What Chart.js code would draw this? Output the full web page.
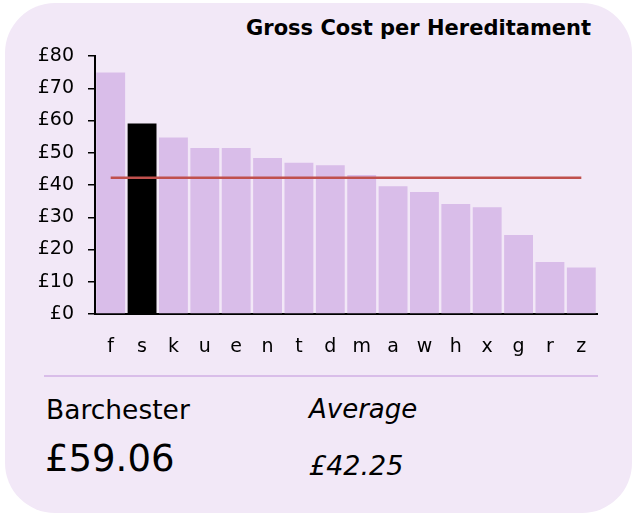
<!DOCTYPE html>
<html>
<head>
<meta charset="utf-8">
<script src="https://cdn.jsdelivr.net/npm/chart.js@4/dist/chart.umd.min.js"></script>
<style>
  html, body { margin: 0; padding: 0; background: #fff; }
  body { width: 632px; height: 515px; position: relative; overflow: hidden; font-family: 'DejaVu Sans', Verdana, sans-serif; color: #000; }
  .card { position: absolute; left: 5px; top: 3px; width: 627px; height: 510px; border-radius: 50px; background: #f2e8f7; }
  .title { position: absolute; right: 41px; top: 16px; font-weight: bold; font-size: 21px; }
  #wrap { position: absolute; left: 0; top: 0; width: 632px; height: 360px; }
  .sep { position: absolute; left: 44px; top: 375px; width: 554px; height: 2px; background: #d9bde9; }
  .lbl { position: absolute; white-space: nowrap; }
</style>
</head>
<body>
<div class="card"></div>
<div class="title">Gross Cost per Hereditament</div>
<div id="wrap"><canvas id="costChart" width="632" height="360"></canvas></div>
<div class="sep"></div>
<div class="lbl" style="left:46px; top:394px; font-size:26.5px;">Barchester</div>
<div class="lbl" style="left:45px; top:437px; font-size:37px;">£59.06</div>
<div class="lbl" style="left:309px; top:394px; font-size:26px; font-style:italic;">Average</div>
<div class="lbl" style="left:309px; top:450px; font-size:27px; font-style:italic;">£42.25</div>
<script>
  const categories = ['f', 's', 'k', 'u', 'e', 'n', 't', 'd', 'm', 'a', 'w', 'h', 'x', 'g', 'r', 'z'];
  const costs = [74.9, 59.06, 54.7, 51.5, 51.5, 48.4, 46.9, 46.1, 43.1, 39.6, 37.8, 34.1, 33.1, 24.5, 16.1, 14.4];
  const highlight = 's';
  const average = 42.25;
  const yTicks = [0, 10, 20, 30, 40, 50, 60, 70, 80];

  const barColors = categories.map(c => c === highlight ? '#000000' : '#d9bde9');
  const avgLine = categories.map(() => average);

  new Chart(document.getElementById('costChart'), {
    type: 'bar',
    data: {
      labels: categories,
      datasets: [
        { type: 'line', label: 'Average', data: avgLine, borderColor: '#c0504d', borderWidth: 2.5, pointRadius: 0, fill: false, order: 0 },
        { label: 'Gross cost', data: costs, backgroundColor: barColors, barPercentage: 0.92, categoryPercentage: 1, order: 1 },
      ],
    },
    options: {
      responsive: false,
      animation: false,
      layout: { padding: { left: 0, right: 35, top: 56, bottom: 0 } },
      plugins: { legend: { display: false }, tooltip: { enabled: false }, title: { display: false } },
      scales: {
        x: {
          grid: { display: false },
          border: { display: true, color: '#000', width: 2 },
          ticks: { color: '#000', padding: 14, font: { family: 'DejaVu Sans', size: 19 } },
          afterFit(scale) { scale.height = 46; },
        },
        y: {
          min: 0,
          max: 80,
          afterBuildTicks(scale) { scale.ticks = yTicks.map(v => ({ value: v })); },
          grid: { drawOnChartArea: false, drawTicks: true, tickLength: 7, color: '#000', lineWidth: 1.5 },
          border: { display: true, color: '#000', width: 2 },
          ticks: { color: '#000', padding: 14, font: { family: 'DejaVu Sans', size: 19 }, callback: v => '£' + v },
          afterFit(scale) { scale.width = 95; },
        },
      },
    },
  });
</script>
</body>
</html>
